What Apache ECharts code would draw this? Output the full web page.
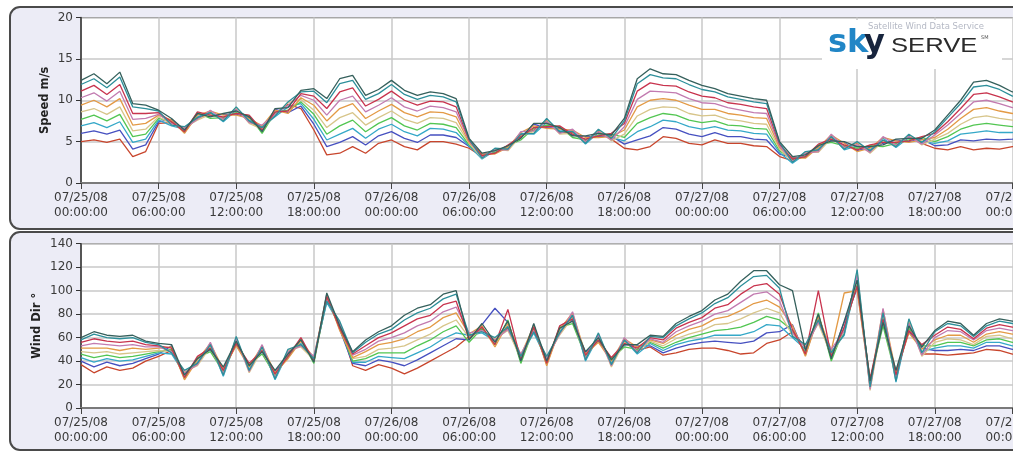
<!DOCTYPE html>
<html>
<head>
<meta charset="utf-8">
<script src="https://cdn.jsdelivr.net/npm/echarts@6/dist/echarts.min.js"></script>
<style>
  html, body { margin: 0; padding: 0; background: #fff; }
  #chart { width: 1013px; height: 452px; }
</style>
</head>
<body>
<div id="chart"></div>
<script>
// hours since 07/25/08 00:00
const hours = Array.from({ length: 74 }, (_, i) => i)

// wind speed, m/s (top line to bottom line)
const speed1 = [12.4,13.2,12.0,13.4,9.6,9.4,8.8,7.8,6.4,8.4, 8.0,8.4,8.7,8.0,6.2,9.0,9.1,11.2,11.4,10.2, 12.6,13.0,10.6,11.3,12.4,11.2,10.6,11.0,10.8,10.2, 5.4,3.6,3.9,4.5,5.4,7.2,7.2,6.7,5.7,5.7, 6.0,5.8,7.8,12.6,13.8,13.2,13.1,12.4,11.8,11.4, 10.8,10.5,10.2,10.0,5.0,3.2,3.4,4.5,5.1,5.0, 4.4,4.4,4.6,5.3,5.4,5.4,6.4,8.2,10.0,12.2, 12.4,11.8,11.0,11.2]
const speed2 = [11.9,12.6,11.5,12.8,9.2,9.0,8.7,7.0,6.8,7.9, 8.5,7.5,9.2,7.5,6.7,8.1,9.8,11.0,11.1,9.7, 12.0,12.4,10.1,10.8,11.9,10.7,10.1,10.6,10.4,9.8, 5.3,3.0,4.2,4.1,5.9,6.0,7.8,6.2,6.2,4.8, 6.5,5.4,7.5,12.0,13.1,12.7,12.6,11.9,11.3,11.0, 10.4,10.1,9.8,9.6,4.9,2.5,3.8,4.0,5.6,4.1, 5.0,3.9,5.2,4.4,5.9,4.9,6.2,7.9,9.6,11.6, 11.8,11.3,10.5,10.7]
const speed3 = [11.1,11.8,10.7,11.9,8.4,8.4,8.5,7.4,6.2,8.6, 8.2,8.0,8.4,8.2,6.4,8.6,8.7,10.8,10.5,9.0, 11.0,11.5,9.3,10.1,11.1,10.0,9.4,9.9,9.8,9.2, 5.2,3.3,3.6,4.6,5.6,6.7,6.8,6.9,5.9,5.3, 5.7,6.0,7.2,11.1,12.1,11.8,11.7,11.0,10.5,10.3, 9.7,9.5,9.2,9.0,4.7,2.9,3.2,4.7,5.3,4.6, 4.0,4.6,4.9,4.9,5.1,5.6,6.0,7.4,9.0,10.7, 10.9,10.4,9.8,10.0]
const speed4 = [10.3,10.9,9.9,11.1,7.7,7.8,8.3,7.2,6.6,7.7, 8.8,7.7,8.9,7.3,7.0,8.3,9.4,10.6,10.0,8.2, 10.0,10.5,8.6,9.4,10.3,9.2,8.7,9.3,9.1,8.6, 5.1,3.1,4.0,4.0,6.2,6.3,7.4,6.0,6.5,5.0, 6.2,5.2,6.8,10.1,11.1,11.0,10.9,10.2,9.7,9.6, 9.1,8.8,8.5,8.4,4.5,2.6,3.6,3.8,5.9,4.3, 4.6,3.7,5.6,4.6,5.6,4.7,5.8,7.0,8.4,9.8, 10.0,9.6,9.1,9.3]
const speed5 = [9.4,10.0,9.2,10.2,7.0,7.2,8.2,7.6,6.0,8.2, 8.7,8.2,8.2,7.8,6.9,8.8,8.4,10.3,9.4,7.5, 9.0,9.6,7.8,8.7,9.5,8.5,8.0,8.6,8.5,8.0, 4.9,3.5,3.5,4.3,6.1,6.9,6.6,6.5,6.4,5.5, 5.5,5.6,6.4,9.2,10.0,10.2,10.0,9.4,8.9,8.9, 8.4,8.2,7.9,7.8,4.3,3.0,3.0,4.3,5.8,4.8, 3.8,4.2,5.5,5.1,4.9,5.2,5.5,6.5,7.8,8.9, 9.1,8.7,8.4,8.6]
const speed6 = [8.6,9.0,8.3,9.2,6.3,6.5,8.0,7.1,6.7,7.6, 8.3,7.6,9.1,7.2,6.5,8.2,9.7,10.1,8.8,6.7, 7.9,8.5,7.0,7.9,8.7,7.7,7.2,7.9,7.8,7.3, 4.8,3.0,4.1,3.9,5.7,6.2,7.7,5.9,6.0,4.9, 6.4,5.1,5.9,8.1,8.9,9.2,9.1,8.4,8.1,8.2, 7.7,7.5,7.2,7.1,4.1,2.6,3.7,3.7,5.4,4.2, 4.9,3.6,5.0,4.5,5.8,4.6,5.3,6.0,7.1,7.9, 8.1,7.8,7.6,7.8]
const speed7 = [7.7,8.2,7.5,8.3,5.6,5.9,7.8,7.4,6.2,8.5, 7.8,7.9,8.5,8.1,6.0,8.5,8.8,9.8,8.3,5.9, 6.9,7.6,6.2,7.2,7.9,6.9,6.4,7.2,7.1,6.7, 4.6,3.3,3.7,4.5,5.2,6.6,7.0,6.8,5.5,5.2, 5.8,5.9,5.5,7.2,7.9,8.4,8.2,7.6,7.3,7.5, 7.0,6.9,6.6,6.5,3.9,2.8,3.2,4.6,4.9,4.5, 4.2,4.5,4.4,4.8,5.2,5.5,5.0,5.6,6.5,7.0, 7.2,7.0,6.8,7.0]
const speed8 = [6.9,7.3,6.7,7.4,4.9,5.3,7.6,6.9,6.5,8.0, 8.6,7.4,8.8,7.6,6.8,8.0,9.2,9.6,7.7,5.2, 5.9,6.6,5.4,6.5,7.1,6.2,5.7,6.6,6.5,6.1, 4.5,2.9,3.9,4.2,6.0,5.9,7.3,6.3,6.3,4.7, 6.1,5.5,5.1,6.2,6.8,7.6,7.4,6.8,6.5,6.8, 6.4,6.3,6.0,5.9,3.7,2.4,3.5,4.1,5.7,4.0, 4.5,4.0,5.4,4.3,5.5,5.0,4.8,5.1,5.9,6.1, 6.3,6.1,6.1,6.3]
const speed9 = [6.0,6.3,5.9,6.4,4.1,4.6,7.4,7.7,6.1,8.3, 8.1,8.3,8.3,7.9,6.3,8.9,8.5,9.3,7.1,4.4, 4.9,5.6,4.6,5.7,6.2,5.4,4.9,5.8,5.8,5.5, 4.4,3.5,3.6,4.4,5.5,7.1,6.7,6.6,5.8,5.6, 5.6,5.7,4.7,5.2,5.7,6.7,6.5,5.9,5.6,6.1, 5.6,5.6,5.3,5.2,3.5,3.1,3.1,4.4,5.2,4.9, 3.9,4.3,4.8,5.2,5.0,5.3,4.5,4.6,5.2,5.1, 5.3,5.2,5.3,5.5]
const speed10 = [5.0,5.2,4.9,5.3,3.2,3.8,7.2,7.3,6.6,7.8, 8.4,7.8,9.0,7.4,6.6,8.4,9.5,9.0,6.4,3.4, 3.6,4.4,3.6,4.8,5.2,4.4,4.0,5.0,5.0,4.7, 4.2,3.2,4.1,4.0,5.8,6.4,7.6,6.1,6.1,5.1, 6.3,5.3,4.2,4.0,4.4,5.6,5.4,4.8,4.6,5.2, 4.8,4.8,4.5,4.4,3.2,2.7,3.6,3.9,5.5,4.4, 4.8,3.8,5.1,4.7,5.7,4.8,4.2,4.0,4.4,4.0, 4.2,4.1,4.4,4.6]

// wind direction, degrees (top line to bottom line)
const dir1 = [60,65,62,61,62,57,55,54,28,42, 50,35,57,36,48,32,46,58,39,98, 70,48,58,65,70,79,85,88,97,100, 58,72,56,74,40,72,40,68,74,48, 60,41,54,54,62,61,72,78,83,92, 97,108,117,117,105,100,49,80,42,74, 109,23,73,32,70,52,66,74,72,62, 72,76,74,72]
const dir2 = [58,63,60,59,60,56,54,47,32,38, 54,28,61,32,52,25,50,54,42,91, 74,47,56,63,67,75,81,85,93,97, 62,65,60,69,44,65,44,64,79,41, 64,37,58,47,61,60,70,76,81,89, 94,104,112,113,102,61,54,75,47,63, 118,18,81,23,76,47,65,72,70,61, 70,74,72,70]
const dir3 = [56,59,57,56,57,54,53,51,26,44, 51,32,55,38,49,29,44,60,40,95, 68,46,53,60,64,70,76,79,88,91, 59,69,54,84,41,69,38,70,76,45, 58,43,55,51,60,58,68,73,77,85, 88,97,104,106,97,67,46,100,44,69, 104,25,76,28,66,54,62,69,67,59, 68,71,69,67]
const dir4 = [53,55,54,53,54,52,52,48,30,37, 56,29,59,31,54,26,48,53,44,92, 72,45,50,57,60,64,70,74,82,86, 64,66,58,67,46,66,42,63,82,42, 62,36,60,48,59,56,65,70,74,80, 83,90,97,99,91,64,51,73,50,66, 113,16,85,25,72,45,60,66,65,58, 66,68,66,64]
const dir5 = [51,51,51,49,51,50,51,52,24,41, 55,33,53,35,53,30,42,57,43,96, 66,43,48,54,56,59,65,69,77,81, 63,70,52,72,45,70,36,67,81,46, 56,40,59,52,58,55,62,67,70,76, 78,83,89,92,86,70,44,78,49,98, 100,21,84,30,64,50,58,62,62,56, 63,65,63,61]
const dir6 = [48,47,48,46,47,48,49,48,31,36, 52,29,60,30,50,26,49,52,41,92, 73,42,44,50,51,53,58,63,70,75, 60,66,59,66,42,66,43,62,77,42, 63,35,56,48,57,53,59,63,66,71, 72,76,81,85,81,62,53,72,45,64, 116,15,78,24,75,44,56,59,58,54, 61,62,59,57]
const dir7 = [46,43,45,43,44,46,48,50,26,43, 48,31,55,37,46,28,44,59,38,94, 68,40,42,47,47,47,53,58,65,70, 56,68,54,75,38,68,38,69,72,44, 58,42,52,50,56,51,56,60,63,66, 67,69,73,78,75,66,47,81,40,68, 105,24,70,27,68,53,53,56,56,53, 58,59,56,54]
const dir8 = [43,39,42,40,41,44,47,46,29,39, 54,27,58,33,52,24,47,55,43,90, 71,39,39,44,43,42,47,52,59,64, 62,64,57,70,44,64,41,65,80,40, 61,38,58,46,55,49,54,57,59,62, 62,62,65,71,70,60,50,76,48,62, 111,19,82,22,71,48,51,53,53,51, 56,56,53,51]
const dir9 = [40,35,39,36,38,42,46,53,25,42, 50,34,54,36,48,31,43,58,40,97, 67,38,36,41,39,36,41,47,53,59, 58,71,85,73,40,71,37,68,75,47, 57,41,54,53,53,47,51,54,56,57, 56,55,57,64,65,71,45,79,43,73, 102,22,75,31,65,51,49,49,50,49, 53,53,50,48]
const dir10 = [37,30,35,32,34,40,44,49,30,38, 53,30,59,32,51,27,48,54,42,93, 72,36,32,37,34,29,34,40,46,52, 61,67,58,68,43,67,42,64,78,43, 62,37,57,49,52,45,47,50,51,51, 49,46,47,55,58,65,52,74,46,67, 114,17,79,26,74,46,46,45,46,47, 50,49,46,44]

const speedLines = [speed1, speed2, speed3, speed4, speed5, speed6, speed7, speed8, speed9, speed10]
const dirLines = [dir1, dir2, dir3, dir4, dir5, dir6, dir7, dir8, dir9, dir10]
const lineColors = ['#35605c', '#2d8f9a', '#c8344e', '#c27bb0', '#e39a45', '#d7c58a', '#52c652', '#35a8c8', '#4650c0', '#c8452c']

const FONT = 'DejaVu Sans'
const pad = n => (n < 10 ? '0' + n : '' + n)

// 07/25/08 + hours -> two-line date label
function timeLabel(v) {
  const day = 25 + Math.floor(v / 24)
  return '07/' + day + '/08\n' + pad(v % 24) + ':00:00'
}

function makeX(gridIndex) {
  return {
    type: 'value',
    gridIndex,
    min: 0,
    max: 78,
    interval: 6,
    axisLine: { show: true, lineStyle: { color: '#7a7a7a', width: 2 } },
    axisTick: { show: true, length: 6, lineStyle: { color: '#444' } },
    axisLabel: { formatter: timeLabel, color: '#3a3a3a', fontFamily: FONT, fontSize: 12, lineHeight: 15, margin: 7 },
    splitLine: { show: true, lineStyle: { color: '#c9c9c9', width: 1.5 } }
  }
}

function makeY(gridIndex, max, interval, name, gap) {
  return {
    type: 'value',
    gridIndex,
    min: 0,
    max,
    interval,
    name,
    nameLocation: 'middle',
    nameRotate: 90,
    nameGap: gap,
    nameMoveOverlap: false,
    nameTextStyle: { fontFamily: FONT, fontWeight: 'bold', fontSize: 11.5, color: '#222' },
    axisLine: { show: true, lineStyle: { color: '#333', width: 1.5 } },
    axisTick: { show: true, length: 5, lineStyle: { color: '#333' } },
    axisLabel: { color: '#3a3a3a', fontFamily: FONT, fontSize: 12, margin: 8 },
    splitLine: { show: true, lineStyle: { color: '#c9c9c9', width: 1.5 } }
  }
}

function makeSeries(lines, axisIndex) {
  return lines.map((arr, i) => ({
    type: 'line',
    xAxisIndex: axisIndex,
    yAxisIndex: axisIndex,
    data: arr.map((v, k) => [hours[k], v]),
    showSymbol: false,
    silent: true,
    lineStyle: { color: lineColors[i], width: 1.3 },
    z: 2 + (lines.length - i)
  }))
}

const chart = echarts.init(document.getElementById('chart'), null, { renderer: 'canvas' })

const option = {
  animation: false,
  backgroundColor: '#ffffff',
  grid: [
    { left: 81, top: 17.5, width: 1009, height: 165.5, outerBoundsMode: 'none', containLabel: false, show: true, backgroundColor: '#ffffff', borderColor: '#444', borderWidth: 1 },
    { left: 81, top: 243.7, width: 1009, height: 164.3, outerBoundsMode: 'none', containLabel: false, show: true, backgroundColor: '#ffffff', borderColor: '#444', borderWidth: 1 }
  ],
  xAxis: [makeX(0), makeX(1)],
  yAxis: [makeY(0, 20, 5, 'Speed m/s', 30), makeY(1, 140, 20, 'Wind Dir \u00b0', 38)],
  series: [...makeSeries(speedLines, 0), ...makeSeries(dirLines, 1)],
  graphic: [
    // panel frames
    { type: 'rect', z: -10, shape: { x: 10, y: 7, width: 1100, height: 222, r: 10 }, style: { fill: '#ececf6', stroke: '#4a4a4a', lineWidth: 2 } },
    { type: 'rect', z: -10, shape: { x: 10, y: 232, width: 1100, height: 218, r: 10 }, style: { fill: '#ececf6', stroke: '#4a4a4a', lineWidth: 2 } },
    // logo
    { type: 'rect', z: 100, shape: { x: 822, y: 20, width: 180, height: 49 }, style: { fill: '#ffffff' } },
    { type: 'text', z: 101, x: 868, y: 27, style: { text: 'Satellite Wind Data Service', fill: '#b4b8c4', font: '8.5px "DejaVu Sans"', verticalAlign: 'middle' } },
    { type: 'text', z: 101, x: 828, y: 60, style: { text: 'sk', fill: '#2186c6', font: 'bold 32px "DejaVu Sans"', verticalAlign: 'bottom' } },
    { type: 'text', z: 101, x: 864, y: 60, style: { text: 'y', fill: '#17243d', font: 'bold 32px "DejaVu Sans"', verticalAlign: 'bottom' } },
    { type: 'text', z: 101, x: 891, y: 57, scaleX: 1.22, style: { text: 'SERVE', fill: '#2b2b2b', font: '21px "Liberation Sans"', verticalAlign: 'bottom' } },
    { type: 'text', z: 101, x: 981, y: 38, style: { text: 'SM', fill: '#555', font: '5px "DejaVu Sans"', verticalAlign: 'middle' } }
  ]
}

chart.setOption(option)
</script>
</body>
</html>
